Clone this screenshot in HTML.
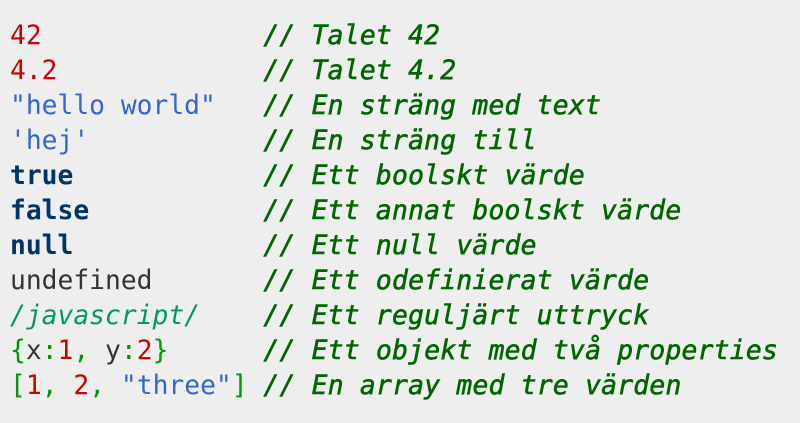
<!DOCTYPE html>
<html><head><meta charset="utf-8"><style>
html,body{margin:0;padding:0;background:#eeeeee;width:800px;height:423px;overflow:hidden}
pre{margin:0;position:absolute;left:10px;top:19px;font-family:"DejaVu Sans Mono","Liberation Mono",monospace;font-size:26.3px;line-height:35px;color:#333}
.n{color:#cc0000}.s{color:#3366cc}.k{color:#003366;font-weight:bold}.c{color:#006600;font-style:italic;-webkit-text-stroke:0.6px #006600;letter-spacing:0.25px}.r{color:#009966;font-style:italic}.p{color:#009900}.u{color:#333}
</style></head><body><pre><span class="n">42</span>              <span class="c">// Talet 42</span>
<span class="n">4.2</span>             <span class="c">// Talet 4.2</span>
<span class="s">"hello world"</span>   <span class="c">// En sträng med text</span>
<span class="s">'hej'</span>           <span class="c">// En sträng till</span>
<span class="k">true</span>            <span class="c">// Ett boolskt värde</span>
<span class="k">false</span>           <span class="c">// Ett annat boolskt värde</span>
<span class="k">null</span>            <span class="c">// Ett null värde</span>
<span class="u">undefined</span>       <span class="c">// Ett odefinierat värde</span>
<span class="r">/javascript/</span>    <span class="c">// Ett reguljärt uttryck</span>
<span class="p">{</span>x<span class="p">:</span><span class="n">1</span><span class="p">,</span> y<span class="p">:</span><span class="n">2</span><span class="p">}</span>      <span class="c">// Ett objekt med två properties</span>
<span class="p">[</span><span class="n">1</span><span class="p">,</span> <span class="n">2</span><span class="p">,</span> <span class="s">"three"</span><span class="p">]</span> <span class="c">// En array med tre värden</span></pre></body></html>
